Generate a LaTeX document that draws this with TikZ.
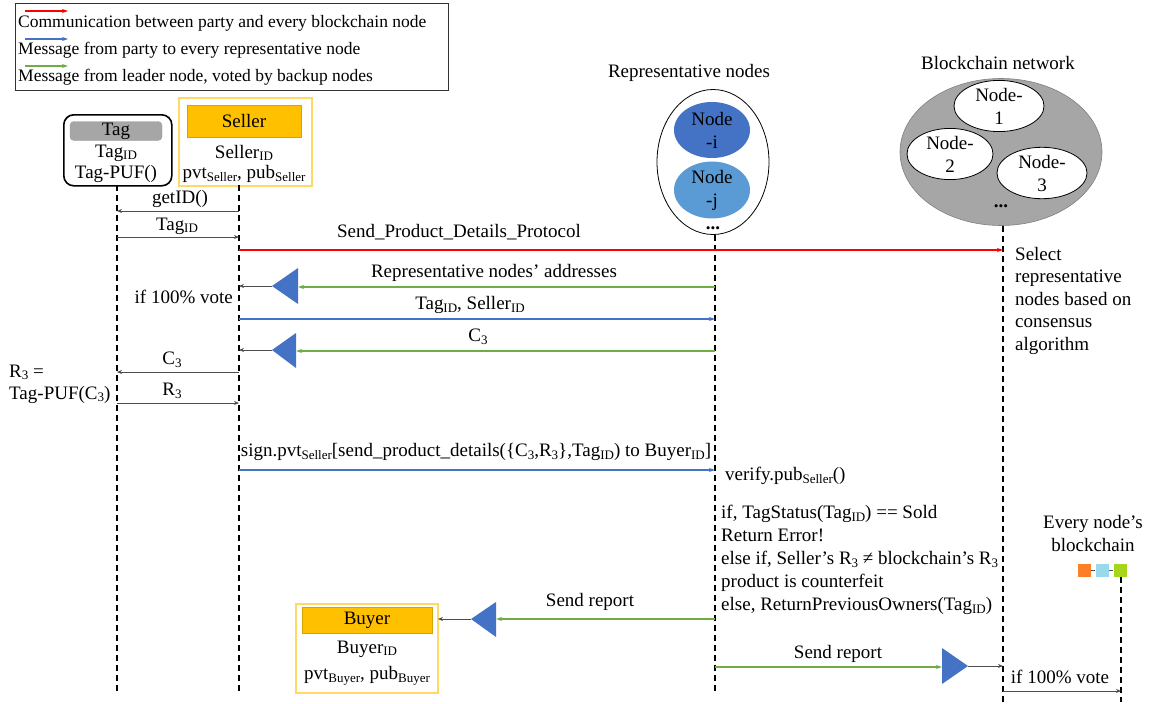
\documentclass[tikz,border=0pt]{standalone}
\usepackage{fontspec}
\setmainfont{Liberation Serif}
\usetikzlibrary{arrows.meta,shapes.geometric}
\definecolor{cred}{HTML}{FF0000}
\definecolor{cblue}{HTML}{4472C4}
\definecolor{cgreen}{HTML}{70AD47}
\definecolor{tri}{HTML}{4472C4}
\definecolor{gold}{HTML}{FFD966}
\definecolor{orangefill}{HTML}{FFC000}
\definecolor{orangeline}{HTML}{D6A300}
\definecolor{taggray}{HTML}{A6A6A6}
\definecolor{netgray}{HTML}{A6A6A6}
\definecolor{nodei}{HTML}{4472C4}
\definecolor{nodej}{HTML}{5B9BD5}
\definecolor{sqorange}{HTML}{FF7F27}
\definecolor{sqblue}{HTML}{99D9EA}
\definecolor{sqgreen}{HTML}{A6D61A}
\newcommand{\sbs}[1]{\raisebox{-0.32ex}{\fontsize{13}{14}\selectfont #1}}
\begin{document}
\begin{tikzpicture}[x=1pt,y=-1pt,
  every node/.style={font=\fontsize{19}{23}\selectfont, inner sep=0pt},
  legtext/.style={anchor=west, font=\fontsize{17.5}{21}\selectfont},
  lifeline/.style={line width=1.1pt, dash pattern=on 6pt off 4pt},
  msg/.style={draw=black!70, line width=0.9pt, -{Stealth[length=5pt,width=4pt]}},
  redmsg/.style={draw=cred, line width=1.1pt, -{Stealth[length=6pt,width=4pt]}},
  bluemsg/.style={draw=cblue, line width=1.1pt, -{Stealth[length=6pt,width=4pt]}},
  greenmsg/.style={draw=cgreen, line width=1.1pt, -{Stealth[length=6pt,width=4pt]}},
  votetri/.style={fill=tri, draw=none},
  idbox/.style={draw=gold, line width=1.6pt},
  idhead/.style={fill=orangefill, draw=orangeline, line width=0.5pt, minimum width=114pt, minimum height=32pt},
  ellnode/.style={ellipse, draw=black, line width=0.8pt, align=center, font=\fontsize{19}{23}\selectfont},
  sq/.style={minimum width=13pt, minimum height=13pt, draw=none},
  dots/.style={font=\bfseries\fontsize{19}{23}\selectfont}
]
\useasboundingbox (0,0) rectangle (1154,704);

% ---------- legend ----------
\node[draw=black!80, line width=0.9pt, minimum width=433pt, minimum height=87pt, anchor=north west] (legend) at (15,3) {};
\coordinate (lr1) at (25,11);  \coordinate (lr2) at (68,11);
\coordinate (lb1) at (25,39);  \coordinate (lb2) at (68,39);
\coordinate (lg1) at (25,66);  \coordinate (lg2) at (68,66);
\draw[redmsg] (lr1) -- (lr2);
\draw[bluemsg] (lb1) -- (lb2);
\draw[greenmsg] (lg1) -- (lg2);
\node[legtext] (legt1) at (18,23) {Communication between party and every blockchain node};
\node[legtext] (legt2) at (18,50) {Message from party to every representative node};
\node[legtext] (legt3) at (18,77) {Message from leader node, voted by backup nodes};

% ---------- Tag ----------
\node[draw=black, rounded corners=10pt, line width=1.6pt, minimum width=108pt, minimum height=71pt, anchor=north west] (tagbox) at (63,114) {};
\node[fill=taggray, draw=black!40, line width=0.4pt, rounded corners=4pt, minimum width=92pt, minimum height=19pt] (taghead) at (116,131) {Tag};
\node (tagid) at (116,153) {Tag\sbs{ID}};
\node (tagpuf) at (116,174) {Tag-PUF()};

% ---------- Seller ----------
\node[idbox, minimum width=133pt, minimum height=88pt, anchor=north west] (sellerbox) at (178,97) {};
\node[idhead] (sellerhead) at (244,121) {Seller};
\node (sellerid) at (244,153) {Seller\sbs{ID}};
\node (sellerkeys) at (244,174) {pvt\sbs{Seller}, pub\sbs{Seller}};

% ---------- Representative nodes ----------
\node (replabel) at (689,73) {Representative nodes};
\node[ellnode, minimum width=112pt, minimum height=145pt] (repell) at (713,162) {};
\node[ellnode, draw=none, fill=nodei, minimum width=76pt, minimum height=56pt] (nodei) at (712,130) {Node\\-i};
\node[ellnode, draw=none, fill=nodej, minimum width=76pt, minimum height=55pt] (nodej) at (712,190) {Node\\-j};
\node[dots] (repdots) at (713,228) {...};

% ---------- Blockchain network ----------
\node (netlabel) at (998,63) {Blockchain network};
\node[ellipse, fill=netgray, draw=black!50, line width=0.6pt, minimum width=202pt, minimum height=147pt] (netell) at (1001,152) {};
\node[ellnode, fill=white, minimum width=90pt, minimum height=46pt] (node1) at (999,106) {Node-\\1};
\node[ellnode, fill=white, minimum width=86pt, minimum height=43pt] (node2) at (950,154) {Node-\\2};
\node[ellnode, fill=white, minimum width=90pt, minimum height=46pt] (node3) at (1042,173) {Node-\\3};
\node[dots] (netdots) at (1001,206) {...};

% ---------- lifelines ----------
\coordinate (tagtop) at (117,185);   \coordinate (tagbot) at (117,692);
\coordinate (seltop) at (239,185);   \coordinate (selbot) at (239,692);
\coordinate (reptop) at (715,235);   \coordinate (repbot) at (715,692);
\coordinate (nettop) at (1003,226);  \coordinate (netbot) at (1003,702);
\coordinate (chtop)  at (1121,577);  \coordinate (chbot)  at (1121,702);
\draw[lifeline] (tagtop) -- (tagbot);
\draw[lifeline] (seltop) -- (selbot);
\draw[lifeline] (reptop) -- (repbot);
\draw[lifeline] (nettop) -- (netbot);
\draw[lifeline] (chtop) -- (chbot);

% ---------- messages ----------
% getID
\coordinate (m1s) at (239,211); \coordinate (m1e) at (117,211);
\draw[msg] (m1s) -- (m1e);
\node (m1l) at (180,199) {getID()};
% TagID
\coordinate (m2s) at (117,237); \coordinate (m2e) at (239,237);
\draw[msg] (m2s) -- (m2e);
\node (m2l) at (177,226) {Tag\sbs{ID}};
% Send product details protocol
\coordinate (m3s) at (239,250); \coordinate (m3e) at (1003,250);
\draw[redmsg] (m3s) -- (m3e);
\node (m3l) at (459,232) {Send\_Product\_Details\_Protocol};
\node[anchor=north west, align=left, font=\fontsize{19}{22.5}\selectfont] (select) at (1015,247) {Select\\representative\\nodes based on\\consensus\\algorithm};

% representative nodes' addresses
\coordinate (m4s) at (715,287); \coordinate (t1base) at (298,287);
\coordinate (t1tip) at (272,286); \coordinate (m4e) at (239,286);
\draw[greenmsg] (m4s) -- (t1base);
\fill[votetri] (t1tip) -- (298,268) -- (298,304) -- cycle;
\draw[msg] (t1tip) -- (m4e);
\node (m4l) at (494,273) {Representative nodes’ addresses};
\node[anchor=east] (vote1) at (233,297) {if 100\% vote};

% TagID, SellerID
\coordinate (m5s) at (239,319); \coordinate (m5e) at (715,319);
\draw[bluemsg] (m5s) -- (m5e);
\node (m5l) at (470,305) {Tag\sbs{ID}, Seller\sbs{ID}};

% C3 from rep
\coordinate (m6s) at (715,351); \coordinate (t2base) at (296,351);
\coordinate (t2tip) at (272,350); \coordinate (m6e) at (239,350);
\draw[greenmsg] (m6s) -- (t2base);
\fill[votetri] (t2tip) -- (296,333) -- (296,368) -- cycle;
\draw[msg] (t2tip) -- (m6e);
\node (m6l) at (478,337) {C\sbs{3}};

% C3 seller -> tag
\coordinate (m7s) at (239,372); \coordinate (m7e) at (117,372);
\draw[msg] (m7s) -- (m7e);
\node (m7l) at (172,360) {C\sbs{3}};
\node[anchor=west, align=left, font=\fontsize{19}{22}\selectfont] (puf) at (9,384) {R\sbs{3} =\\Tag-PUF(C\sbs{3})};

% R3 tag -> seller
\coordinate (m8s) at (117,403); \coordinate (m8e) at (239,403);
\draw[msg] (m8s) -- (m8e);
\node (m8l) at (172,391) {R\sbs{3}};

% sign
\coordinate (m9s) at (239,470); \coordinate (m9e) at (715,470);
\draw[bluemsg] (m9s) -- (m9e);
\node (m9l) at (476,452) {sign.pvt\sbs{Seller}[send\_product\_details(\{C\sbs{3},R\sbs{3}\},Tag\sbs{ID}) to Buyer\sbs{ID}]};
\node[anchor=west] (verify) at (725,476) {verify.pub\sbs{Seller}()};
\node[anchor=north west, align=left, font=\fontsize{19}{23}\selectfont] (check) at (721,505) {if, TagStatus(Tag\sbs{ID}) == Sold\\Return Error!\\else if, Seller’s R\sbs{3} ≠ blockchain’s R\sbs{3}\\product is counterfeit\\else, ReturnPreviousOwners(Tag\sbs{ID})};

% every node's blockchain
\node[align=center, font=\fontsize{19}{23}\selectfont] (chlabel) at (1093,533) {Every node’s\\blockchain};
\node[sq, fill=sqorange] (b1) at (1084,570) {};
\node[sq, fill=sqblue] (b2) at (1102,570) {};
\node[sq, fill=sqgreen] (b3) at (1120,570) {};
\draw[black!70, line width=0.8pt] (b1) -- (b2);
\draw[black!70, line width=0.8pt] (b2) -- (b3);

% Buyer
\node[idbox, minimum width=142pt, minimum height=89pt, anchor=north west] (buyerbox) at (295,603) {};
\node[idhead, minimum width=130pt, minimum height=26pt] (buyerhead) at (367,620) {Buyer};
\node (buyerid) at (367,649) {Buyer\sbs{ID}};
\node (buyerkeys) at (367,676) {pvt\sbs{Buyer}, pub\sbs{Buyer}};

% send report to buyer
\coordinate (m10s) at (715,619); \coordinate (t3base) at (496,619);
\coordinate (t3tip) at (471,619); \coordinate (m10e) at (438,619);
\draw[greenmsg] (m10s) -- (t3base);
\fill[votetri] (t3tip) -- (496,602) -- (496,637) -- cycle;
\draw[msg] (t3tip) -- (m10e);
\node (m10l) at (590,602) {Send report};

% send report to blockchain
\coordinate (m11s) at (715,667); \coordinate (t4base) at (942,667);
\coordinate (t4tip) at (968,666); \coordinate (m11e) at (1003,666);
\draw[greenmsg] (m11s) -- (t4base);
\fill[votetri] (t4tip) -- (942,648) -- (942,684) -- cycle;
\draw[msg] (t4tip) -- (m11e);
\node (m11l) at (838,654) {Send report};

% vote to chain
\coordinate (m12s) at (1003,691); \coordinate (m12e) at (1121,691);
\draw[msg] (m12s) -- (m12e);
\node (m12l) at (1060,677) {if 100\% vote};
\end{tikzpicture}
\end{document}
